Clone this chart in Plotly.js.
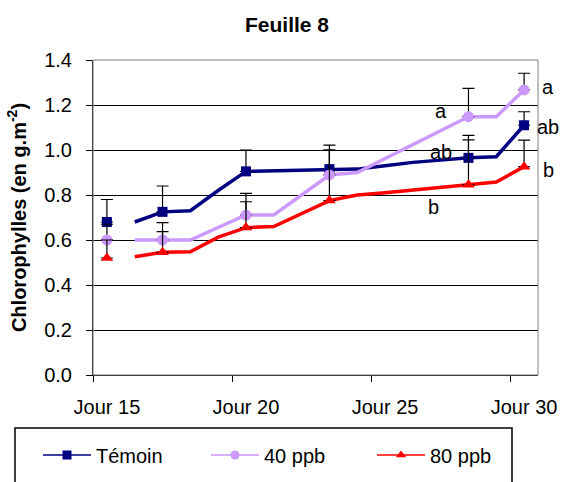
<!DOCTYPE html>
<html>
<head>
<meta charset="utf-8">
<script src="https://cdn.plot.ly/plotly-3.0.1.min.js"></script>
<style>
  html, body { margin: 0; padding: 0; background: #ffffff; }
  #chart { width: 561px; height: 482px; }
</style>
</head>
<body>
<div id="chart"></div>
<script>
// x axis: one slot per day, labelled every five days
const tickDays = [15, 20, 25, 30];
const tickLabels = ['Jour 15', 'Jour 20', 'Jour 25', 'Jour 30'];
const tickBounds = [14.5, 19.5, 24.5, 29.5];

const seriesNames = ['Témoin', '40 ppb', '80 ppb'];

// measurement days (marker + standard error)
const measuredDays = [15, 17, 20, 23, 28, 30];

const temoinValues = [0.68, 0.725, 0.905, 0.915, 0.965, 1.11];
const temoinErrors = [0.10, 0.115, 0.095, 0.107, 0.10, 0.06];

const ppb40Values = [0.60, 0.60, 0.711, 0.889, 1.148, 1.267];
const ppb40Errors = [0.07, 0.077, 0.096, 0.111, 0.126, 0.074];

const ppb80Values = [0.52, 0.545, 0.655, 0.775, 0.845, 0.926];
const ppb80Errors = [0.08, 0.092, 0.115, 0.225, 0.20, 0.118];

// daily trend line (Jour 16 to Jour 30); null = no vertex that day
const lineDays = [16, 17, 18, 19, 20, 21, 22, 23, 24, 25, 26, 27, 28, 29, 30];
const temoinLine = [0.68, 0.725, 0.73, 0.82, 0.905, null, null, 0.915, 0.915, 0.93, 0.945, 0.955, 0.965, 0.97, 1.11];
const ppb40Line  = [0.60, 0.60, 0.60, null, 0.711, 0.711, null, 0.889, 0.90, null, null, null, 1.148, 1.148, 1.267];
const ppb80Line  = [0.526, 0.545, 0.548, 0.613, 0.655, 0.66, null, 0.775, 0.80, 0.81, 0.822, 0.835, 0.845, 0.858, 0.926];

// significance letters: three beside Jour 28, three to the right of Jour 30
const letterText  = ['a', 'ab', 'b', 'a', 'ab', 'b'];
const letterDay   = [27.0, 27.0, 26.73, null, null, null];
const letterValue = [1.173, 0.991, 0.747, 1.282, 1.103, 0.911];

const colors  = ['#000080', '#cc99ff', '#ff0000'];
const symbols = ['square', 'circle', 'triangle-up'];
const sizes   = [10, 11, 11];

const lines    = [temoinLine, ppb40Line, ppb80Line];
const values   = [temoinValues, ppb40Values, ppb80Values];
const errors   = [temoinErrors, ppb40Errors, ppb80Errors];

const traces = [];

// trend lines
lines.forEach((ys, i) => {
  traces.push({
    type: 'scatter', mode: 'lines', x: lineDays, y: ys,
    connectgaps: true, showlegend: false, hoverinfo: 'skip',
    line: { color: colors[i], width: 3.5 }
  });
});

// measured points with upper error bars
values.forEach((ys, i) => {
  traces.push({
    type: 'scatter', mode: 'markers', x: measuredDays, y: ys,
    showlegend: false,
    marker: { color: colors[i], symbol: symbols[i], size: sizes[i], line: { width: 0 } },
    error_y: {
      type: 'data', symmetric: false, array: errors[i],
      arrayminus: errors[i].map(() => 0),
      color: '#000000', thickness: 1.2, width: 6
    }
  });
});

// legend entries, one legend box per series
const legendIds = ['legend', 'legend2', 'legend3'];
seriesNames.forEach((name, i) => {
  traces.push({
    type: 'scatter', mode: 'lines+markers', x: [null], y: [null], name: name,
    legend: legendIds[i],
    line: { color: colors[i], width: 1.5 },
    marker: { color: colors[i], symbol: symbols[i], size: 9 }
  });
});

// letters right of the plot sit just past the frame (paper x)
const annotations = letterText.map((t, i) => {
  const outside = letterDay[i] === null;
  return {
    x: outside ? (548 - 93) / 445 : letterDay[i],
    xref: outside ? 'paper' : 'x',
    y: letterValue[i], yref: 'y',
    text: t, showarrow: false, xanchor: 'center', yanchor: 'middle',
    font: { size: 20, color: '#000000' }
  };
});

function legendAt(px) {
  return {
    orientation: 'h', xref: 'container', yref: 'container',
    x: px / 561, xanchor: 'left',
    y: 1 - 455 / 482, yanchor: 'middle',
    itemwidth: 48,
    bgcolor: 'rgba(0,0,0,0)', borderwidth: 0,
    font: { size: 20, color: '#000000' }
  };
}

const layout = {
  width: 561, height: 482,
  margin: { l: 93, r: 23, t: 60, b: 107, pad: 0 },
  paper_bgcolor: '#ffffff', plot_bgcolor: '#ffffff',
  font: { family: 'Arial, "Liberation Sans", sans-serif', size: 20, color: '#000000' },
  title: {
    text: '<b>Feuille 8</b>', font: { size: 21 },
    x: 287 / 561, xanchor: 'center', y: 1 - 25 / 482, yanchor: 'middle'
  },
  xaxis: {
    range: [14.5, 30.5], tickmode: 'array', tickvals: tickDays, ticktext: tickLabels,
    ticks: '', showgrid: false, zeroline: false,
    showline: true, linecolor: '#000000', linewidth: 1,
    ticklabelstandoff: 14,
    minor: { tickmode: 'array', tickvals: tickBounds, ticks: 'outside', ticklen: 6, tickwidth: 1, tickcolor: '#000000', showgrid: false }
  },
  yaxis: {
    range: [0, 1.4], tickmode: 'linear', tick0: 0, dtick: 0.2, tickformat: '.1f',
    ticks: 'outside', ticklen: 6, tickwidth: 1, tickcolor: '#000000',
    showgrid: true, gridcolor: '#000000', gridwidth: 1,
    showline: true, linecolor: '#000000', linewidth: 1, zeroline: false,
    ticklabelstandoff: 10,
    title: { text: '<b>Chlorophylles (en g.m<sup>-2</sup>)</b>', font: { size: 20 }, standoff: 12 }
  },
  legend: legendAt(38),
  legend2: legendAt(206),
  legend3: legendAt(372),
  shapes: [
    // plot area frame
    { type: 'rect', xref: 'paper', yref: 'paper', x0: 0, x1: 1, y0: 0, y1: 1,
      line: { color: '#808080', width: 1 }, layer: 'above' },
    // legend frame
    { type: 'rect', xref: 'paper', yref: 'paper',
      x0: (15 - 93) / 445, x1: (512 - 93) / 445,
      y0: (375 - 428) / 315, y1: (375 - 500) / 315,
      line: { color: '#000000', width: 1.5 }, layer: 'above' }
  ],
  annotations: annotations
};

Plotly.newPlot('chart', traces, layout, { staticPlot: true, displayModeBar: false });
</script>
</body>
</html>
